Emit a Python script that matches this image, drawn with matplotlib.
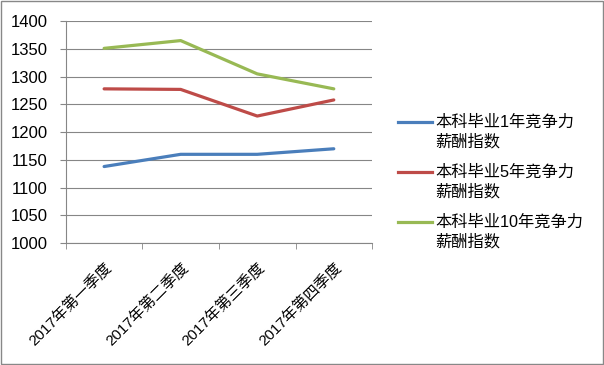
import matplotlib.pyplot as plt
from matplotlib.lines import Line2D
from matplotlib.patches import Rectangle

plt.rcParams["font.family"] = ["Liberation Sans", "Noto Sans CJK SC"]

# -----------------------------
# Data
# -----------------------------
quarters = ["2017年第一季度", "2017年第二季度", "2017年第三季度", "2017年第四季度"]
grad_1yr = [1138, 1160, 1160, 1170]
grad_5yr = [1278, 1277, 1229, 1258]
grad_10yr = [1351, 1365, 1305, 1278]
series_names = ["本科毕业1年竞争力\n薪酬指数", "本科毕业5年竞争力\n薪酬指数", "本科毕业10年竞争力\n薪酬指数"]
y_ticks = [1000, 1050, 1100, 1150, 1200, 1250, 1300, 1350, 1400]

colors = ["#4A7EBB", "#BE4B48", "#98B954"]
grid_c = "#868686"

W, H = 604, 365

# -----------------------------
# Plot
# -----------------------------
fig = plt.figure(figsize=(W / 100, H / 100), dpi=100)
ax = fig.add_axes([0.109, 0.334, 0.507, 0.608])

x = list(range(len(quarters)))
for vals, c in zip([grad_1yr, grad_5yr, grad_10yr], colors):
    ax.plot(x, vals, color=c, lw=2.3, solid_capstyle="round")

ax.set_xlim(-0.5, len(quarters) - 0.5)
ax.set_ylim(1000, 1400)
ax.set_yticks(y_ticks)
ax.tick_params(axis="y", labelsize=12, length=4, color=grid_c, pad=9)
ax.yaxis.grid(True, color=grid_c, lw=0.8)
ax.set_axisbelow(True)

ax.set_xticks(x)
ax.set_xticklabels(quarters, rotation=45, ha="right", va="top",
                   rotation_mode="anchor", fontsize=11)
ax.tick_params(axis="x", which="major", length=0, pad=12)
ax.set_xticks([i - 0.5 for i in range(len(quarters) + 1)], minor=True)
ax.tick_params(axis="x", which="minor", length=4, color=grid_c)

for s in ["top", "right"]:
    ax.spines[s].set_visible(False)
for s in ["left", "bottom"]:
    ax.spines[s].set_color(grid_c)
    ax.spines[s].set_linewidth(0.8)

# legend drawn by hand so the handle sits on the first text line
for i, (name, c) in enumerate(zip(series_names, colors)):
    y0 = 122 + 50 * i
    fig.add_artist(Line2D([398 / W, 432 / W], [1 - y0 / H, 1 - y0 / H],
                          color=c, lw=2.3, transform=fig.transFigure))
    for j, line in enumerate(name.split("\n")):
        fig.text(435 / W, 1 - (y0 + 19.5 * j) / H, line, fontsize=11.7,
                 va="center", ha="left")

fig.patches.append(Rectangle((0.001, 0.002), 0.997, 0.996, transform=fig.transFigure,
                             fill=False, edgecolor="#888888", lw=1))

plt.savefig("out.png", dpi=100)
